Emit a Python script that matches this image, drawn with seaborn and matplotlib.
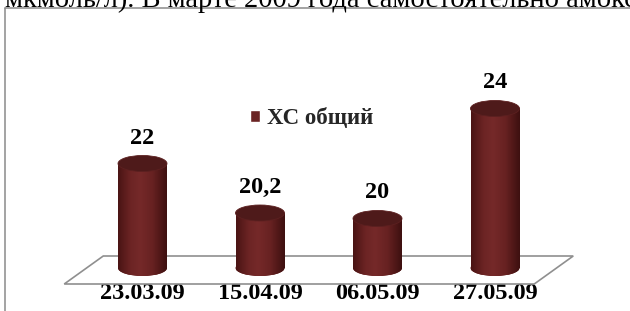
import numpy as np
import pandas as pd
import matplotlib
matplotlib.use("Agg")
import matplotlib.pyplot as plt
import seaborn as sns
from matplotlib.patches import Ellipse, Polygon, Rectangle
from matplotlib.lines import Line2D
from matplotlib.colors import LinearSegmentedColormap

# ---- data ----
dates = ["23.03.09", "15.04.09", "06.05.09", "27.05.09"]
values = [22, 20.2, 20, 24]
value_labels = ["22", "20,2", "20", "24"]
series_name = "ХС общий"
axis_min = 18.2
header_text = "мкмоль/л). В марте 2009 года самостоятельно амокс"

# ---- style ----
sns.set_theme(style="white")
plt.rcParams['font.family'] = ['Liberation Serif', 'DejaVu Serif']

W, H = 630, 311
body_color = "#6b2424"
top_color = "#4e1a1a"
grad_cmap = LinearSegmentedColormap.from_list(
    "cyl", [(0, "#4a1414"), (0.25, "#6c2424"), (0.45, "#752929"),
            (0.7, "#682222"), (1.0, "#3e1010")])

fig = plt.figure(figsize=(W / 100, H / 100), dpi=100)
ax = fig.add_axes([0, 0, 1, 1])

df = pd.DataFrame({"date": dates, "value": values, "series": series_name})
sns.barplot(data=df, x="date", y="value", hue="series", palette=[body_color],
            width=0.417, ax=ax, saturation=1)

# pixel mapping of the reference chart
x0_px, step_px = 142.5, 117.5
base_px, unit_px = 268, 27.5
xlim = ((0 - x0_px) / step_px, (W - x0_px) / step_px)
ylim = (axis_min - (H - base_px) / unit_px, axis_min + base_px / unit_px)

eh = 16 / unit_px  # ellipse height in data units

# floor parallelogram
n = len(dates)
floor_top = axis_min + 12 / unit_px
floor_bot = axis_min - 16 / unit_px
shift = 0.166
floor = Polygon([(-0.5 + shift, floor_top), (n - 0.5 + shift, floor_top),
                 (n - 0.5 - shift, floor_bot), (-0.5 - shift, floor_bot)],
                closed=True, facecolor="none", edgecolor="#8f8f8f", lw=1.2, zorder=1)

grad = np.linspace(0, 1, 64).reshape(1, -1)
bars = [b for b in ax.patches if isinstance(b, Rectangle)]
ax.add_patch(floor)
for p, v, lab in zip(bars, values, value_labels):
    bx, bw = p.get_x(), p.get_width()
    cx = bx + bw / 2
    p.set_y(axis_min)
    p.set_height(v - axis_min)
    p.set_zorder(3)
    p.set_edgecolor("none")
    # bottom ellipse
    be = Ellipse((cx, axis_min), bw, eh, facecolor=body_color, edgecolor="none", zorder=2)
    ax.add_patch(be)
    im = ax.imshow(grad, extent=(bx, bx + bw, axis_min - eh / 2, axis_min + eh / 2),
                   aspect="auto", cmap=grad_cmap, zorder=2.5, interpolation="bilinear")
    im.set_clip_path(be)
    # body
    im2 = ax.imshow(grad, extent=(bx, bx + bw, axis_min, v),
                    aspect="auto", cmap=grad_cmap, zorder=3.5, interpolation="bilinear")
    im2.set_clip_path(p)
    # top ellipse
    te = Ellipse((cx, v), bw, eh, facecolor=top_color, edgecolor="#5c2020", lw=0.6, zorder=4)
    ax.add_patch(te)
    ax.annotate(lab, (cx, v), xytext=(0, 20 * 0.72), textcoords="offset points",
                ha="center", va="baseline", fontsize=17.5, fontweight="bold",
                color="black", zorder=5)

ax.set_xlim(*xlim)
ax.set_ylim(*ylim)
for s in ax.spines.values():
    s.set_visible(False)
ax.set_yticks([])
ax.set_xlabel("")
ax.set_ylabel("")
ax.set_xticks(range(n))
ax.set_xticklabels(dates, fontsize=17.5, fontweight="bold", color="black")
ax.tick_params(axis="x", length=0, pad=-28 * 0.72, direction="in")
ax.grid(False)

# legend
old = ax.get_legend()
handles = old.legend_handles
labels = [t.get_text() for t in old.get_texts()]
old.remove()
leg = ax.legend(handles, labels, loc="center left",
                bbox_to_anchor=(250 / W, 1 - 119 / H), bbox_transform=fig.transFigure,
                frameon=False, prop={"weight": "bold", "size": 16.5},
                handlelength=0.45, handleheight=0.45, handletextpad=0.3,
                borderpad=0, borderaxespad=0)

# frame of the embedded chart
fc = "#8a8a8a"
fig.add_artist(Line2D([4.5 / W, 4.5 / W], [0, 1 - 8 / H], color=fc, lw=1.1))
fig.add_artist(Line2D([4.5 / W, 1], [1 - 8 / H, 1 - 8 / H], color=fc, lw=1.1))

# header text of the document (cut off at the top, as in the source page)
fig.text(5 / W, 1 - 7 / H, header_text, fontsize=20.5, va="baseline", ha="left",
         color="black", family=["Liberation Serif", "DejaVu Serif"])

fig.savefig("out.png", dpi=100, facecolor="white")
